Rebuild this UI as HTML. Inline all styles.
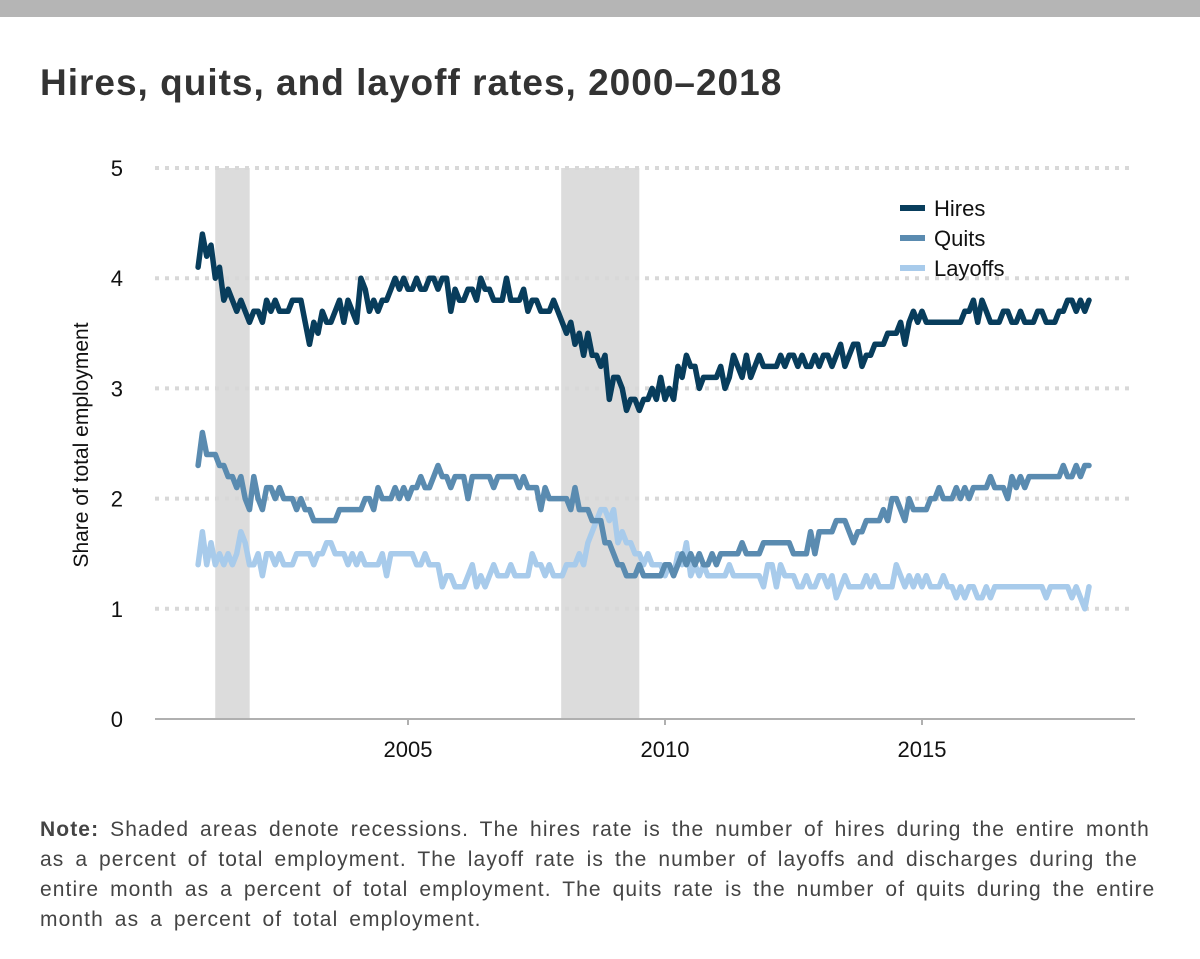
<!DOCTYPE html>
<html><head><meta charset="utf-8">
<style>
body{margin:0;background:#fff;width:1200px;height:959px;overflow:hidden;font-family:"Liberation Sans",sans-serif;}
#topbar{position:absolute;left:0;top:0;width:1200px;height:17px;background:#b5b5b5;}
#title{position:absolute;left:40px;top:62px;font-size:37px;font-weight:bold;color:#333;letter-spacing:1px;white-space:nowrap;}
#note{position:absolute;left:40px;top:815px;width:1150px;font-size:21px;line-height:30px;color:#444;white-space:nowrap;letter-spacing:1.1px;word-spacing:4px;}
svg{position:absolute;left:0;top:0;}
</style></head>
<body>
<div id="topbar"></div>
<div id="title">Hires, quits, and layoff rates, 2000–2018</div>
<svg id="chart" width="1200" height="800"></svg>
<div id="note"><b>Note:</b> Shaded areas denote recessions. The hires rate is the number of hires during the entire month<br>as a percent of total employment. The layoff rate is the number of layoffs and discharges during the<br>entire month as a percent of total employment. The quits rate is the number of quits during the entire<br>month as a percent of total employment.</div>
<script>
const startYear = 2000 + 11/12; // Dec 2000
const yTicks = [0,1,2,3,4,5];
const xTicks = [2005,2010,2015];
const recessions = [[2001.25,2001.92],[2007.98,2009.5]];
const hires = [4.1,
4.4,4.2,4.3,4.0,4.1,3.8,3.9,3.8,3.7,3.8,3.7,3.6,
3.7,3.7,3.6,3.8,3.7,3.8,3.7,3.7,3.7,3.8,3.8,3.8,
3.6,3.4,3.6,3.5,3.7,3.6,3.6,3.7,3.8,3.6,3.8,3.7,
3.6,4.0,3.9,3.7,3.8,3.7,3.8,3.8,3.9,4.0,3.9,4.0,
3.9,3.9,4.0,3.9,3.9,4.0,4.0,3.9,4.0,4.0,3.7,3.9,
3.8,3.8,3.9,3.9,3.8,4.0,3.9,3.9,3.8,3.8,3.8,4.0,
3.8,3.8,3.8,3.9,3.7,3.8,3.8,3.7,3.7,3.7,3.8,3.7,
3.6,3.5,3.6,3.4,3.5,3.3,3.5,3.3,3.3,3.2,3.3,2.9,
3.1,3.1,3.0,2.8,2.9,2.9,2.8,2.9,2.9,3.0,2.9,3.1,
2.9,3.0,2.9,3.2,3.1,3.3,3.2,3.2,3.0,3.1,3.1,3.1,
3.1,3.2,3.0,3.1,3.3,3.2,3.1,3.3,3.1,3.2,3.3,3.2,
3.2,3.2,3.2,3.3,3.2,3.3,3.3,3.2,3.3,3.2,3.2,3.3,
3.2,3.3,3.3,3.2,3.3,3.4,3.2,3.3,3.4,3.4,3.2,3.3,
3.3,3.4,3.4,3.4,3.5,3.5,3.5,3.6,3.4,3.6,3.7,3.6,
3.7,3.6,3.6,3.6,3.6,3.6,3.6,3.6,3.6,3.6,3.7,3.7,
3.8,3.6,3.8,3.7,3.6,3.6,3.6,3.7,3.7,3.6,3.6,3.7,
3.6,3.6,3.6,3.7,3.7,3.6,3.6,3.6,3.7,3.7,3.8,3.8,
3.7,3.8,3.7,3.8];
const quits = [2.3,
2.6,2.4,2.4,2.4,2.3,2.3,2.2,2.2,2.1,2.2,2.0,1.9,
2.2,2.0,1.9,2.1,2.1,2.0,2.1,2.0,2.0,2.0,1.9,2.0,
1.9,1.9,1.8,1.8,1.8,1.8,1.8,1.8,1.9,1.9,1.9,1.9,
1.9,1.9,2.0,2.0,1.9,2.1,2.0,2.0,2.0,2.1,2.0,2.1,
2.0,2.1,2.1,2.2,2.1,2.1,2.2,2.3,2.2,2.2,2.1,2.2,
2.2,2.2,2.0,2.2,2.2,2.2,2.2,2.2,2.1,2.2,2.2,2.2,
2.2,2.2,2.1,2.2,2.1,2.1,2.1,1.9,2.1,2.0,2.0,2.0,
2.0,2.0,1.9,2.1,1.9,1.9,1.9,1.8,1.8,1.8,1.6,1.6,
1.5,1.4,1.4,1.3,1.3,1.3,1.4,1.3,1.3,1.3,1.3,1.3,
1.4,1.4,1.3,1.4,1.5,1.4,1.5,1.4,1.5,1.4,1.4,1.5,
1.4,1.5,1.5,1.5,1.5,1.5,1.6,1.5,1.5,1.5,1.5,1.6,
1.6,1.6,1.6,1.6,1.6,1.6,1.5,1.5,1.5,1.5,1.7,1.5,
1.7,1.7,1.7,1.7,1.8,1.8,1.8,1.7,1.6,1.7,1.7,1.8,
1.8,1.8,1.8,1.9,1.8,2.0,2.0,1.9,1.8,2.0,1.9,1.9,
1.9,1.9,2.0,2.0,2.1,2.0,2.0,2.0,2.1,2.0,2.1,2.0,
2.1,2.1,2.1,2.1,2.2,2.1,2.1,2.1,2.0,2.2,2.1,2.2,
2.1,2.2,2.2,2.2,2.2,2.2,2.2,2.2,2.2,2.3,2.2,2.2,
2.3,2.2,2.3,2.3];
const layoffs = [1.4,
1.7,1.4,1.6,1.4,1.5,1.4,1.5,1.4,1.5,1.7,1.6,1.4,
1.4,1.5,1.3,1.5,1.5,1.4,1.5,1.4,1.4,1.4,1.5,1.5,
1.5,1.5,1.4,1.5,1.5,1.6,1.6,1.5,1.5,1.5,1.4,1.5,
1.4,1.5,1.4,1.4,1.4,1.4,1.5,1.3,1.5,1.5,1.5,1.5,
1.5,1.5,1.4,1.4,1.5,1.4,1.4,1.4,1.2,1.3,1.3,1.2,
1.2,1.2,1.3,1.4,1.2,1.3,1.2,1.3,1.4,1.3,1.3,1.3,
1.4,1.3,1.3,1.3,1.3,1.5,1.4,1.4,1.3,1.4,1.3,1.3,
1.3,1.4,1.4,1.4,1.5,1.4,1.6,1.7,1.8,1.9,1.9,1.8,
1.9,1.6,1.7,1.6,1.6,1.5,1.5,1.4,1.5,1.4,1.4,1.4,
1.3,1.4,1.3,1.5,1.4,1.6,1.3,1.4,1.3,1.4,1.3,1.3,
1.3,1.3,1.3,1.4,1.3,1.3,1.3,1.3,1.3,1.3,1.3,1.2,
1.4,1.4,1.2,1.4,1.3,1.3,1.3,1.2,1.2,1.3,1.2,1.2,
1.3,1.3,1.2,1.3,1.1,1.2,1.3,1.2,1.2,1.2,1.2,1.3,
1.2,1.3,1.2,1.2,1.2,1.2,1.4,1.3,1.2,1.3,1.2,1.3,
1.2,1.3,1.2,1.2,1.2,1.3,1.2,1.2,1.1,1.2,1.1,1.2,
1.2,1.1,1.1,1.2,1.1,1.2,1.2,1.2,1.2,1.2,1.2,1.2,
1.2,1.2,1.2,1.2,1.2,1.1,1.2,1.2,1.2,1.2,1.2,1.1,
1.2,1.1,1.0,1.2];

const NS='http://www.w3.org/2000/svg';
const svg=document.getElementById('chart');
const X0=155,X1=1135,Y0=719,Y5=168;
function xs(yr){return 151+(yr-2000)*51.4;}
function ys(v){return Y0-(v/5)*(Y0-Y5);}
function mk(tag,attrs){const e=document.createElementNS(NS,tag);for(const k in attrs)e.setAttribute(k,attrs[k]);svg.appendChild(e);return e;}

recessions.forEach(r=>{
  const e=mk('rect',{x:xs(r[0]),y:Y5,width:xs(r[1])-xs(r[0]),height:Y0-Y5,fill:'#dcdcdc'});
  
  
});
yTicks.forEach(t=>{
  let g;
  if(t===0) g=mk('line',{x1:X0,x2:X1,y1:ys(t),y2:ys(t),stroke:'#b0b0b0','stroke-width':2});
  else g=mk('line',{x1:X0,x2:X1,y1:ys(t),y2:ys(t),stroke:'#d8d8d8','stroke-width':4,'stroke-dasharray':'4 6'});
  
  
  const l=mk('text',{x:123,y:ys(t)+8,'text-anchor':'end','font-size':22,fill:'#111'});
  l.textContent=t;
  
  
});
xTicks.forEach(t=>{
  const tk=mk('line',{x1:xs(t),x2:xs(t),y1:Y0,y2:Y0+6,stroke:'#b0b0b0','stroke-width':2});
  
  
  const l=mk('text',{x:xs(t),y:757,'text-anchor':'middle','font-size':22,fill:'#111'});
  l.textContent=t;
  
  
});
const yt=mk('text',{x:0,y:0,transform:'translate(88,445) rotate(-90)','text-anchor':'middle','font-size':21,fill:'#111'});
yt.textContent='Share of total employment';



function series(arr,color,name){
  const pts=arr.map((v,i)=>xs(startYear+i/12).toFixed(1)+','+ys(v).toFixed(1)).join(' ');
  const p=mk('polyline',{points:pts,fill:'none',stroke:color,'stroke-width':5.5,'stroke-linejoin':'round','stroke-linecap':'round'});
  
  
}
series(layoffs,'#a8cbeb','layoffs-line');
series(quits,'#5a8bb0','quits-line');
series(hires,'#083d5c','hires-line');

[['Hires','#083d5c',208],['Quits','#5a8bb0',238],['Layoffs','#a8cbeb',268]].forEach(d=>{
  const s=mk('line',{x1:900,x2:925,y1:d[2],y2:d[2],stroke:d[1],'stroke-width':6});
  
  
  const t=mk('text',{x:934,y:d[2]+8,'font-size':22,fill:'#111'});
  t.textContent=d[0];
  
  
});
</script>
</body></html>
